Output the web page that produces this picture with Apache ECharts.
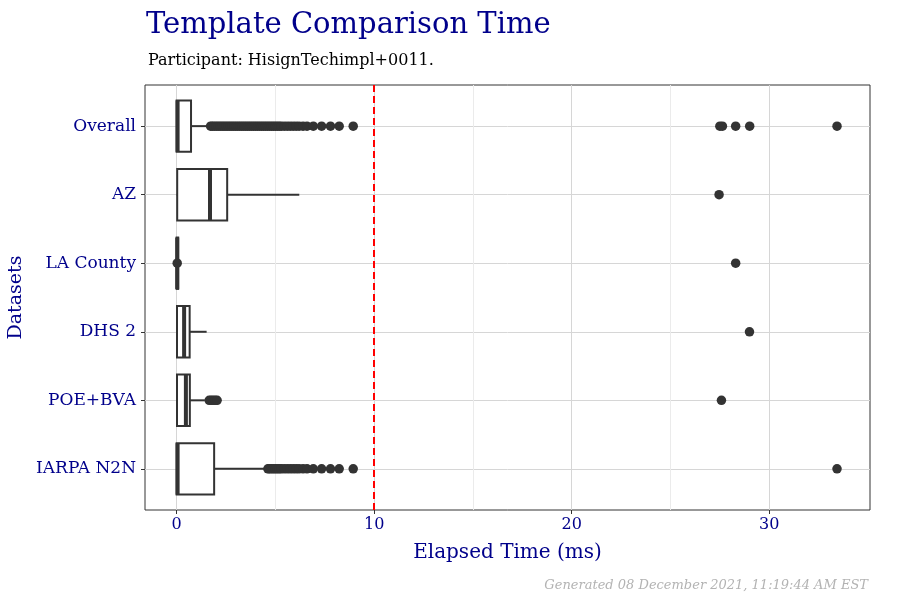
<!DOCTYPE html>
<html>
<head>
<meta charset="utf-8">
<script src="https://cdn.jsdelivr.net/npm/echarts@6/dist/echarts.min.js"></script>
<style>html,body{margin:0;padding:0;background:#fff}#c{width:900px;height:600px}</style>
</head>
<body>
<div id="c"></div>
<script>
// categories, top to bottom
const categories = ['Overall', 'AZ', 'LA County', 'DHS 2', 'POE+BVA', 'IARPA N2N'];
// box stats per category: [low whisker, q1, median, q3, high whisker]
const boxOverall = [0, 0, 0.05, 0.73, 1.6];
const boxAZ = [0, 0.03, 1.69, 2.56, 6.21];
const boxLA = [0, 0, 0.03, 0.08, 0.12];
const boxDHS = [0, 0.02, 0.38, 0.66, 1.52];
const boxPOE = [0, 0.02, 0.47, 0.67, 1.43];
const boxIARPA = [0, 0, 0.05, 1.9, 4.55];
// outliers per category
const outOverall = [1.72, 1.8, 1.9, 2.0, 2.1, 2.2, 2.3, 2.4, 2.5, 2.6, 2.7, 2.8, 2.9, 3.0, 3.1, 3.2, 3.3, 3.4, 3.5, 3.6, 3.7, 3.8, 3.9, 4.0, 4.1, 4.2, 4.3, 4.4, 4.5, 4.6, 4.7, 4.8, 4.9, 5.0, 5.1, 5.2, 5.3, 5.45, 5.6, 5.75, 5.9, 6.05, 6.2, 6.4, 6.6, 6.92, 7.34, 7.79, 8.23, 8.94, 27.5, 27.63, 28.3, 29.01, 33.43];
const outAZ = [27.46];
const outLA = [0.03, 28.3];
const outDHS = [29.0];
const outPOE = [1.65, 1.75, 1.85, 1.95, 2.05, 27.58];
const outIARPA = [4.62, 4.7, 4.8, 4.9, 5.0, 5.1, 5.2, 5.3, 5.45, 5.6, 5.75, 5.9, 6.05, 6.2, 6.4, 6.6, 6.92, 7.34, 7.79, 8.23, 8.94, 33.43];
// axis ticks
const xMajorTicks = [0, 10, 20, 30];
const xMinorTicks = [5, 15, 25];
const thresholdValue = 10;

const boxes = [boxOverall, boxAZ, boxLA, boxDHS, boxPOE, boxIARPA];
const outs = [outOverall, outAZ, outLA, outDHS, outPOE, outIARPA];
const boxData = boxes.map((b, i) => [i].concat(b));
const outData = [];
outs.forEach((arr, i) => arr.forEach(v => outData.push([v, i])));
const yIdx = categories.map((c, i) => i);

const navy = '#00008B';
const font = 'DejaVu Serif';
const chart = echarts.init(document.getElementById('c'));
chart.setOption({
  backgroundColor: '#fff',
  animation: false,
  title: [
    { text: 'Template Comparison Time', left: 141, top: 6, textStyle: { fontFamily: font, fontWeight: 'normal', fontSize: 29, color: navy } },
    { text: 'Participant: HisignTechimpl+0011.', left: 143, top: 48, textStyle: { fontFamily: font, fontWeight: 'normal', fontSize: 16, color: '#000' } },
    { text: 'Generated 08 December 2021, 11:19:44 AM EST', right: 27, top: 574, textStyle: { fontFamily: font, fontStyle: 'italic', fontWeight: 'normal', fontSize: 13, color: '#b3b3b3' } }
  ],
  grid: { left: 145, right: 30, top: 85, bottom: 90, outerBoundsMode: 'none', containLabel: false, show: true, borderColor: '#333', borderWidth: 1, backgroundColor: 'transparent' },
  xAxis: [
    {
      type: 'value', min: -1.6, max: 35.1,
      name: 'Elapsed Time (ms)', nameLocation: 'middle', nameGap: 33,
      nameTextStyle: { fontFamily: font, fontSize: 20, color: navy },
      axisLine: { show: false, onZero: false },
      axisTick: { show: true, length: 4, customValues: xMajorTicks, lineStyle: { color: '#333', width: 1 } },
      axisLabel: { customValues: xMajorTicks, fontFamily: font, fontSize: 16, color: navy, margin: 7 },
      splitLine: { show: true, lineStyle: { color: '#d6d6d6', width: 1 } }
    },
    {
      type: 'value', min: -1.6, max: 35.1, position: 'top',
      axisLine: { show: false, onZero: false },
      axisTick: { show: false, customValues: xMinorTicks },
      axisLabel: { show: false },
      splitLine: { show: true, lineStyle: { color: '#ebebeb', width: 1 } }
    }
  ],
  yAxis: {
    type: 'value', min: -0.6, max: 5.6, inverse: true,
    name: 'Datasets', nameLocation: 'middle', nameGap: 118, nameRotate: 90,
    nameTextStyle: { fontFamily: font, fontSize: 19, color: navy },
    axisLine: { show: false, onZero: false },
    axisTick: { show: true, length: 4, customValues: yIdx, lineStyle: { color: '#333', width: 1 } },
    axisLabel: { customValues: yIdx, formatter: v => categories[Math.round(v)] || '', fontFamily: font, fontSize: 17, color: navy, margin: 9 },
    splitLine: { show: true, lineStyle: { color: '#d6d6d6', width: 1 } }
  },
  series: [
    {
      type: 'custom',
      xAxisIndex: 0,
      data: boxData,
      z: 3,
      renderItem: function (params, api) {
        const y = api.value(0);
        const lo = api.coord([api.value(1), y]);
        const q1 = api.coord([api.value(2), y]);
        const md = api.coord([api.value(3), y]);
        const q3 = api.coord([api.value(4), y]);
        const hi = api.coord([api.value(5), y]);
        const bh = api.size([0, 1])[1] * 0.75;
        const st = { stroke: '#333', lineWidth: 2, fill: null };
        return {
          type: 'group',
          children: [
            { type: 'line', shape: { x1: lo[0], y1: lo[1], x2: q1[0], y2: q1[1] }, style: st },
            { type: 'line', shape: { x1: q3[0], y1: q3[1], x2: hi[0], y2: hi[1] }, style: st },
            { type: 'rect', shape: { x: q1[0], y: q1[1] - bh / 2, width: q3[0] - q1[0], height: bh }, style: { stroke: '#333', lineWidth: 2, fill: '#fff' } },
            { type: 'line', shape: { x1: md[0], y1: md[1] - bh / 2, x2: md[0], y2: md[1] + bh / 2 }, style: { stroke: '#333', lineWidth: 4 } }
          ]
        };
      },
      markLine: {
        silent: true, symbol: 'none', label: { show: false },
        lineStyle: { color: '#ff0000', type: [7, 4], width: 2 },
        data: [{ xAxis: thresholdValue }]
      }
    },
    {
      type: 'scatter',
      xAxisIndex: 0,
      data: outData,
      symbol: 'circle',
      symbolSize: 9.5,
      itemStyle: { color: '#333', opacity: 1 },
      z: 4
    }
  ]
});
</script>
</body>
</html>
